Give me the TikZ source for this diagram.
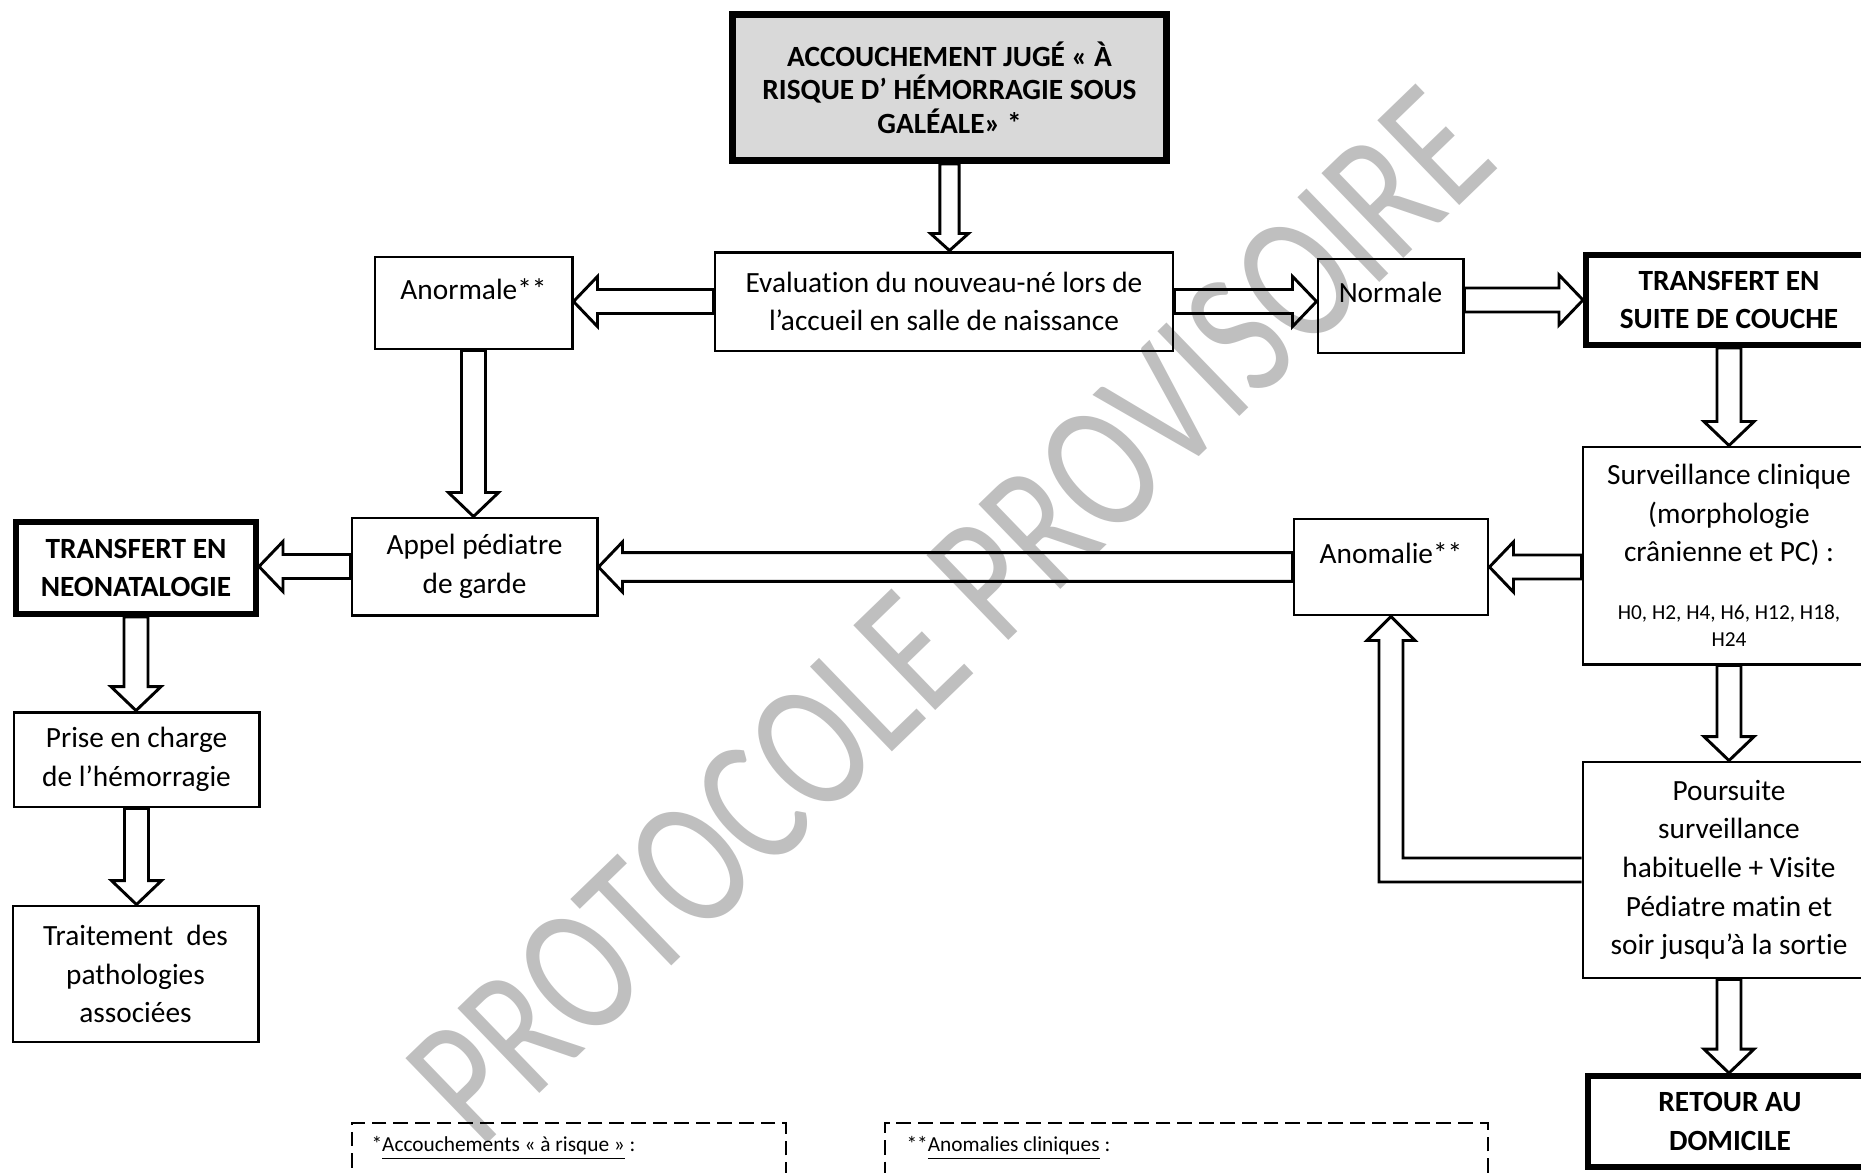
\documentclass[tikz,border=0pt]{standalone}
\usepackage{fontspec}
\setmainfont{Carlito}[Ligatures=NoCommon]
\usetikzlibrary{calc}

\newcommand{\arsh}{4.5pt}
\newcommand{\arhw}{9.4pt}
\newcommand{\arhl}{9pt}
\newcommand{\fatarrow}[2]{%
  \path (#1); \pgfgetlastxy{\arax}{\aray}
  \path (#2); \pgfgetlastxy{\arbx}{\arby}
  \pgfmathsetmacro\arang{atan2(\arby-\aray,\arbx-\arax)}
  \pgfmathsetmacro\arlen{veclen(\arbx-\arax,\arby-\aray)}
  \begin{scope}[shift={(\arax,\aray)},rotate=\arang]
    \draw[fat] (0pt,-\arsh) -- (\arlen pt-\arhl,-\arsh) -- (\arlen pt-\arhl,-\arhw)
      -- (\arlen pt,0pt) -- (\arlen pt-\arhl,\arhw) -- (\arlen pt-\arhl,\arsh)
      -- (0pt,\arsh) -- cycle;
  \end{scope}}

\tikzset{
  flowbox/.style={draw, line width=1.1pt, align=center, inner sep=1pt,
    font=\fontsize{11}{14.5}\selectfont},
  keybox/.style={flowbox, line width=2.25pt,
    font=\fontsize{11}{14.5}\selectfont\bfseries},
  liftext/.style={text height=8pt, text depth=10.5pt},
  fat/.style={draw, line width=1.1pt, line join=miter},
  notebox/.style={draw, line width=0.75pt, dash pattern=on 5.5pt off 2.6pt},
  notetext/.style={inner sep=0pt, font=\fontsize{8}{10}\selectfont},
  wmark/.style={text=black!25, inner sep=0pt, font=\fontsize{53}{58}\selectfont}
}

\begin{document}
\begin{tikzpicture}[x=0.375pt, y=-0.375pt]
\useasboundingbox (0,0) rectangle (1861,1172);
\clip (0,0) rectangle (1861,1172);

\node[wmark, rotate=44, yscale=1.3] (watermark) at (950,615) {PROTOCOLE PROVISOIRE};

\node[keybox, fill=black!15, line width=2.6pt, minimum width=162.75pt, minimum height=54.75pt,
  font=\fontsize{11}{12.5}\selectfont\bfseries] (risque) at (949.5,87.5)
{ACCOUCHEMENT JUGÉ « À\\RISQUE D’ HÉMORRAGIE SOUS\\GALÉALE» *};

\node[flowbox, minimum width=171.75pt, minimum height=37.1pt] (evaluation) at (944,301.5)
{Evaluation du nouveau-né lors de\\l’accueil en salle de naissance};

\node[flowbox, liftext, minimum width=73.9pt, minimum height=34.5pt] (anormale) at (473.5,303)
{Anormale**};

\node[flowbox, liftext, minimum width=54.4pt, minimum height=35.25pt] (normale) at (1390.5,306)
{Normale};

\node[keybox, minimum width=107.25pt, minimum height=33.75pt] (couche) at (1729,300)
{TRANSFERT EN\\SUITE DE COUCHE};

\node[flowbox, minimum width=109.5pt, minimum height=81.4pt] (surveillance) at (1729,555.5)
{Surveillance clinique\\(morphologie\\crânienne et PC) :\\[7pt]
{\fontsize{8}{10}\selectfont H0, H2, H4, H6, H12, H18,}\\[-4.2pt]
{\fontsize{8}{10}\selectfont H24}};

\node[flowbox, liftext, minimum width=72.75pt, minimum height=36pt] (anomalie) at (1391,567)
{Anomalie**};

\node[flowbox, minimum width=91.9pt, minimum height=36.4pt] (appel) at (474.5,566.5)
{Appel pédiatre\\de garde};

\node[keybox, minimum width=90pt, minimum height=34.5pt] (neonat) at (136,568)
{TRANSFERT EN\\NEONATALOGIE};

\node[flowbox, minimum width=91.9pt, minimum height=35.6pt] (prise) at (136.5,759.5)
{Prise en charge\\de l’hémorragie};

\node[flowbox, minimum width=91.9pt, minimum height=51pt] (traitement) at (135.5,974)
{Traitement\ \ des\\pathologies\\associées};

\node[flowbox, minimum width=109.5pt, minimum height=81pt] (poursuite) at (1729,870)
{Poursuite\\surveillance\\habituelle + Visite\\Pédiatre matin et\\soir jusqu’à la sortie};

\node[keybox, minimum width=106.5pt, minimum height=34.1pt] (retour) at (1730,1121.5)
{RETOUR AU\\DOMICILE};

\node[notebox, anchor=north west, minimum width=162.75pt, minimum height=60pt] (note1) at (351,1122) {};
\node[notetext, anchor=base west] (note1txt) at (371,1151)
{*\underline{Accouchements « à risque »} :};

\node[notebox, anchor=north west, minimum width=226pt, minimum height=60pt] (note2) at (884,1122) {};
\node[notetext, anchor=base west] (note2txt) at (906,1151)
{**\underline{Anomalies cliniques} :};

{\renewcommand{\arsh}{3.6pt}\renewcommand{\arhw}{7.1pt}\renewcommand{\arhl}{6.4pt}%
\fatarrow{risque.south}{risque.south |- evaluation.north}}

\fatarrow{evaluation.west}{evaluation.west -| anormale.east}

\fatarrow{evaluation.east}{evaluation.east -| normale.west}

\fatarrow{couche.west -| normale.east}{couche.west}

\fatarrow{anormale.south}{anormale.south |- appel.north}

{\renewcommand{\arsh}{5.4pt}%
\fatarrow{anomalie.west}{anomalie.west -| appel.east}}

\fatarrow{anomalie.east -| surveillance.west}{anomalie.east}

\fatarrow{appel.west}{appel.west -| neonat.east}

\fatarrow{neonat.south}{neonat.south |- prise.north}

\fatarrow{prise.south}{prise.south |- traitement.north}

\fatarrow{couche.south}{couche.south |- surveillance.north}

\fatarrow{surveillance.south}{surveillance.south |- poursuite.north}

\fatarrow{poursuite.south}{poursuite.south |- retour.north}

\draw[fat] ($(poursuite.west)+(0,12)$) -| ($(anomalie.south)+(-12,24)$) -- ++(-12,0)
  -- (anomalie.south) -- ++(24,24) -- ++(-12,0) |- ($(poursuite.west)+(0,-12)$);
\end{tikzpicture}
\end{document}
